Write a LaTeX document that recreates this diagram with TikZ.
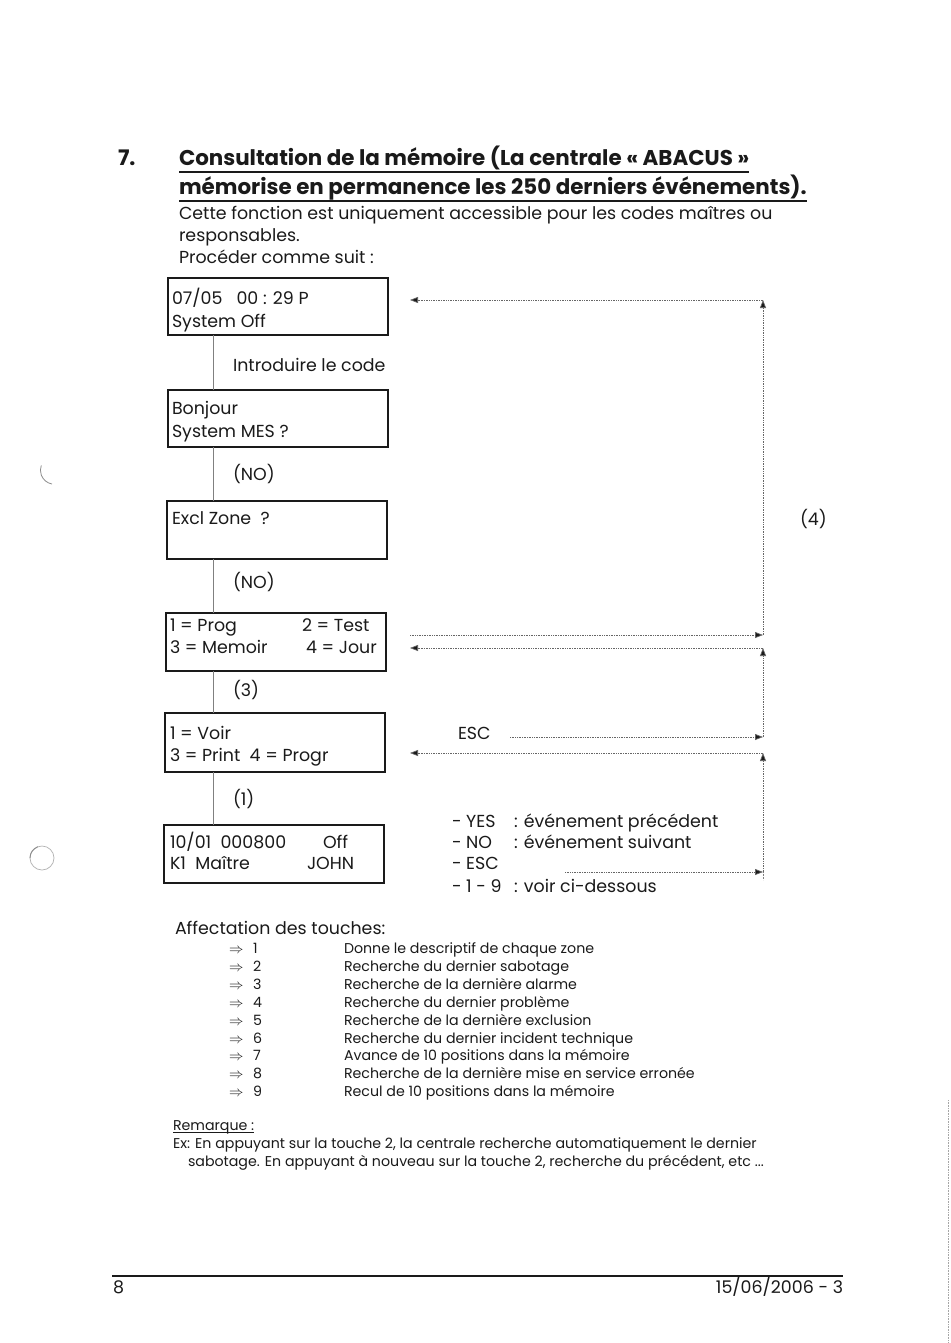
\documentclass[tikz,border=0pt]{standalone}
\usepackage{fontspec}
\setmainfont{Poppins}
\usetikzlibrary{arrows.meta}
\definecolor{ink}{HTML}{1A1A1A}
\begin{document}
\begin{tikzpicture}[x=1pt,y=-1pt,
  every node/.style={inner sep=0pt, outer sep=0pt, text=ink},
  lcd/.style={draw=ink, line width=1.3pt, anchor=north west, minimum width=220pt, minimum height=57pt},
  txt/.style={anchor=west, font=\fontsize{17.4}{20}\selectfont, text height=12.5pt, text depth=4pt, yshift=-2.5pt},
  body/.style={anchor=west, font=\fontsize{17.4}{20}\selectfont, text height=12.5pt, text depth=4pt, yshift=-2.5pt},
  small/.style={anchor=west, font=\fontsize{14.2}{17}\selectfont, text height=10pt, text depth=3pt, yshift=-2pt},
  ttl/.style={anchor=base west, font=\fontsize{21.4}{25}\selectfont\bfseries},
  conn/.style={draw=black!50, line width=0.6pt},
  link/.style={draw=black!60, line width=0.7pt, densely dotted, -{Triangle[length=8pt,width=6pt,fill=ink]}},
]
\useasboundingbox (0,0) rectangle (950,1343);
\fill[white] (0,0) rectangle (950,1343);

% title
\node[ttl] (num) at (118,166) {7.};
\node[ttl] (t1) at (179,166) {Consultation de la mémoire (La centrale « ABACUS »};
\node[ttl] (t2) at (179,195) {mémorise en permanence les 250 derniers événements).};
\draw[ink, line width=1.8pt] ([yshift=-6pt]t1.base west) -- ([yshift=-6pt]t1.base east);
\draw[ink, line width=1.8pt] ([yshift=-6pt]t2.base west) -- ([yshift=-6pt]t2.base east);

\node[body] (p1) at (179,213) {Cette fonction est uniquement accessible pour les codes maîtres ou};
\node[body] (p2) at (179,235) {responsables.};
\node[body] (p3) at (179,257) {Procéder comme suit :};

% boxes
\node[lcd] (b1) at (168,278) {};
\node[lcd] (b2) at (168,390) {};
\node[lcd, minimum height=58pt] (b3) at (167,501) {};
\node[lcd, minimum height=58pt] (b4) at (166,613) {};
\node[lcd, minimum height=59pt] (b5) at (165,713) {};
\node[lcd, minimum height=58pt] (b6) at (164,825) {};

\node[txt] (b1a) at (172,298) {07/05\ \ \ 00 : 29 P};
\node[txt] (b1b) at (172,321) {System Off};
\node[txt] (b2a) at (172,408) {Bonjour};
\node[txt] (b2b) at (172,431) {System MES ?};
\node[txt] (b3a) at (172,518) {Excl Zone\ \ ?};
\node[txt] (b4a) at (170,625) {1 = Prog};
\node[txt] (b4b) at (302,625) {2 = Test};
\node[txt] (b4c) at (170,647) {3 = Memoir};
\node[txt] (b4d) at (306,647) {4 = Jour};
\node[txt] (b5a) at (170,733) {1 = Voir};
\node[txt] (b5b) at (170,755) {3 = Print\ \ 4 = Progr};
\node[txt] (b6a) at (170,842) {10/01\ \ 000800};
\node[txt] (b6b) at (323,842) {Off};
\node[txt] (b6c) at (170,863) {K1\ \ Maître};
\node[txt] (b6d) at (307,863) {JOHN};

% step labels
\node[txt] (l1) at (233,365) {Introduire le code};
\node[txt] (l2) at (233,474) {(NO)};
\node[txt] (l3) at (233,582) {(NO)};
\node[txt] (l4) at (233,690) {(3)};
\node[txt] (l5) at (233,799) {(1)};

% left connectors
\coordinate (vx) at (213,0);
\draw[conn] (b1.south -| vx) -- (b2.north -| vx);
\draw[conn] (b2.south -| vx) -- (b3.north -| vx);
\draw[conn] (b3.south -| vx) -- (b4.north -| vx);
\draw[conn] (b4.south -| vx) -- (b5.north -| vx);
\draw[conn] (b5.south -| vx) -- (b6.north -| vx);

% right side
\node[txt] (esc) at (458,733) {ESC};
\node[txt] (k1) at (452,821) {- YES};
\node[txt] (k1d) at (514,821) {: événement précédent};
\node[txt] (k2) at (452,842) {- NO};
\node[txt] (k2d) at (514,842) {: événement suivant};
\node[txt] (k3) at (452,863) {- ESC};
\node[txt] (k4) at (452,886) {- 1 - 9};
\node[txt] (k4d) at (514,886) {: voir ci-dessous};
\node[txt] (four) at (800,519) {(4)};

\coordinate (a1s) at (410,635);
\coordinate (a1r) at (763,635);
\coordinate (a1t) at (763,300);
\coordinate (a1e) at (410,300);
\draw[link] (a1s) -- (a1r);
\draw[link] (a1r) -- (a1t);
\draw[link] (a1t) -- (a1e);

\coordinate (a2s) at (510,737);
\coordinate (a2r) at (763,737);
\coordinate (a2t) at (763,648);
\coordinate (a2e) at (410,648);
\draw[link] (a2s) -- (a2r);
\draw[link] (a2r) -- (a2t);
\draw[link] (a2t) -- (a2e);

\coordinate (a3s) at (565,872);
\coordinate (a3r) at (763,872);
\coordinate (a3b) at (763,880);
\coordinate (a3t) at (763,753);
\coordinate (a3e) at (410,753);
\draw[link] (a3s) -- (a3r);
\draw[conn, densely dotted] (a3r) -- (a3b);
\draw[link] (a3r) -- (a3t);
\draw[link] (a3t) -- (a3e);

% key list
\node[body] (aff) at (175,928) {Affectation des touches:};
\foreach \n/\y/\d in {1/948/Donne le descriptif de chaque zone,
  2/966/Recherche du dernier sabotage,
  3/984/Recherche de la dernière alarme,
  4/1002/Recherche du dernier problème,
  5/1020/Recherche de la dernière exclusion,
  6/1038/Recherche du dernier incident technique,
  7/1055/Avance de 10 positions dans la mémoire,
  8/1073/Recherche de la dernière mise en service erronée,
  9/1091/Recul de 10 positions dans la mémoire}{
  \node[small] (ka\n) at (229,\y) {\fontsize{15}{15}\selectfont$\Rightarrow$};
  \node[small] (kn\n) at (253,\y) {\n};
  \node[small] (kd\n) at (344,\y) {\d};
}

% remark
\node[small] (rem) at (173,1125) {Remarque :};
\draw[ink, line width=0.6pt] ([yshift=-1.5pt]rem.base west) -- ([yshift=-1.5pt]rem.base east);
\node[small] (ex1) at (173,1143) {Ex: En appuyant sur la touche 2, la centrale recherche automatiquement le dernier};
\node[small] (ex2) at (188,1161) {sabotage. En appuyant à nouveau sur la touche 2, recherche du précédent, etc ...};

% footer
\coordinate (fl) at (112,1276);
\coordinate (fr) at (843,1276);
\draw[ink, line width=1.5pt] (fl) -- (fr);
\node[body, anchor=west] (pg) at (113,1287) {8};
\node[body, anchor=east] (dt) at (843,1287) {15/06/2006 - 3};

% scan marks
\draw[black!45, line width=0.8pt] (52,484) arc[start angle=100, end angle=200, radius=14];
\draw[black!30, line width=0.7pt] (42,858) circle[radius=12];
\draw[black!45, line width=0.9pt] (30,858) arc[start angle=180, end angle=250, radius=12];
\draw[black!35, line width=0.6pt, densely dotted] (948,1100) -- (948,1343);
\end{tikzpicture}
\end{document}
